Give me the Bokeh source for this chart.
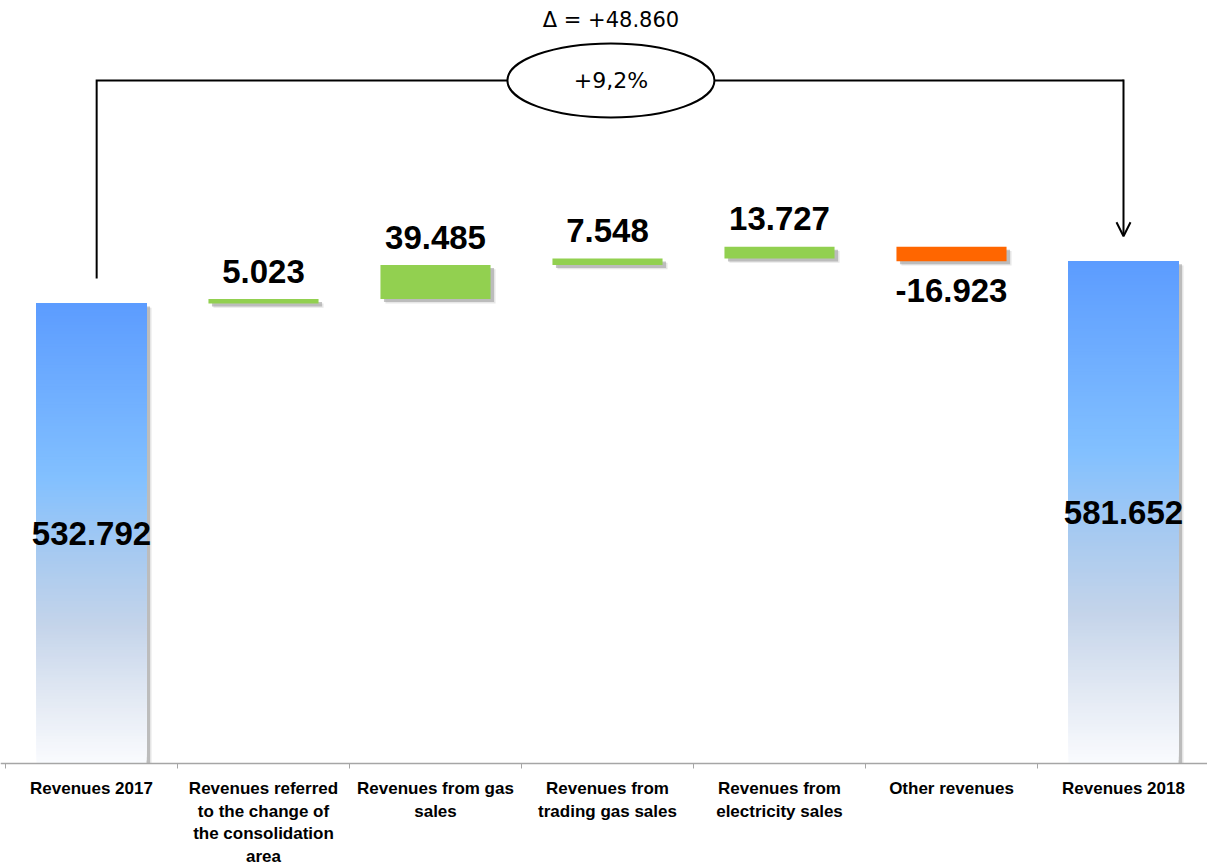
import numpy as np
from bokeh.plotting import figure
from bokeh.models import Range1d, Arrow, OpenHead
from bokeh.core.properties import value
from bokeh.embed import file_html
from bokeh.resources import INLINE

# ---------------- data ----------------
tick_labels = [
    "Revenues 2017",
    "Revenues referred\nto the change of\nthe consolidation\narea",
    "Revenues from gas\nsales",
    "Revenues from\ntrading gas sales",
    "Revenues from\nelectricity sales",
    "Other revenues",
    "Revenues 2018",
]
start_total = 532.792
deltas = [5.023, 39.485, 7.548, 13.727, -16.923]
end_total = 581.652

# ---------------- layout / style ----------------
W, H = 1207, 866
AXIS_Y_PX = 763          # screen y of the category axis
PX_PER_UNIT = 0.8635
CAT_PX = 172.0
LEFT_PX = 5.0            # screen x of first category boundary
BAR_W = 0.64
GREEN = "#92D050"
ORANGE = "#FF6600"
AXIS_GREY = "#a6a6a6"
FONT = value("Liberation Sans")

x_start = -LEFT_PX / CAT_PX - 0.5
x_end = x_start + W / CAT_PX
y_end = AXIS_Y_PX / PX_PER_UNIT
y_start = -(H - AXIS_Y_PX) / PX_PER_UNIT

p = figure(width=W, height=H, output_backend="svg", toolbar_location=None,
           x_range=Range1d(x_start, x_end), y_range=Range1d(y_start, y_end),
           x_axis_location=None, y_axis_location=None,
           min_border_left=0, min_border_right=0, min_border_top=0, min_border_bottom=0)
p.outline_line_color = None
p.xgrid.visible = False
p.ygrid.visible = False
p.background_fill_color = "white"
p.border_fill_color = "white"

n = len(tick_labels)
xs = np.arange(n)

# waterfall geometry from data
bottoms, tops = [], []
running = start_total
for d in deltas:
    new = running + d
    bottoms.append(min(running, new))
    tops.append(max(running, new))
    running = new
dx = list(xs[1:1 + len(deltas)])
colors = [GREEN if d >= 0 else ORANGE for d in deltas]

# shadows
sdx = 3.5 / CAT_PX
sdy = 3.0 / PX_PER_UNIT
bar_x = [xs[0]] + dx + [xs[-1]]
bar_top = [start_total] + tops + [end_total]
bar_bot = [0] + bottoms + [0]
shadow_left = [x - BAR_W / 2 + sdx for x in bar_x]
shadow_right = [x + BAR_W / 2 + sdx for x in bar_x]
shadow_top = [t - sdy for t in bar_top]
shadow_bot = [max(b - sdy, 0) for b in bar_bot]
p.quad(left=shadow_left, right=shadow_right, top=shadow_top, bottom=shadow_bot,
       fill_color="#808080", fill_alpha=0.45, line_color=None)
sdx2 = 1.5 / CAT_PX
p.quad(left=[l + sdx2 for l in shadow_left], right=[r + sdx2 for r in shadow_right],
       top=[t - 1.5 for t in shadow_top], bottom=[max(b - 1.5, 0) for b in shadow_bot],
       fill_color="#a0a0a0", fill_alpha=0.25, line_color=None)

# gradient total bars
stops_f = [0.0, 0.38, 0.55, 0.70, 0.85, 1.0]
stops_c = np.array([[92, 156, 255], [130, 192, 255], [168, 202, 240],
                    [196, 212, 234], [225, 232, 243], [250, 251, 254]], dtype=float)
N = 150


def grad_color(f):
    r = np.interp(f, stops_f, stops_c[:, 0])
    g = np.interp(f, stops_f, stops_c[:, 1])
    b = np.interp(f, stops_f, stops_c[:, 2])
    return "#%02x%02x%02x" % (int(round(r)), int(round(g)), int(round(b)))


for xi, total in [(xs[0], start_total), (xs[-1], end_total)]:
    bots = [total * i / N for i in range(N)]
    cols = [grad_color(1 - (i + 0.5) / N) for i in range(N)]
    p.quad(left=[xi - BAR_W / 2] * N, right=[xi + BAR_W / 2] * N,
           top=[total] * N, bottom=bots, fill_color=cols, line_color=None)

# delta bars
p.quad(left=[x - BAR_W / 2 for x in dx], right=[x + BAR_W / 2 for x in dx],
       top=tops, bottom=bottoms, fill_color=colors, line_color=None)


def fmt(v):
    return f"{v:.3f}"


# delta labels
lab_y = [t if d >= 0 else b for d, t, b in zip(deltas, tops, bottoms)]
lab_off = [-28 if d >= 0 else 29 for d in deltas]
p.text(x=dx, y=lab_y, text=[fmt(d) for d in deltas], y_offset=lab_off,
       text_font=FONT, text_font_style="bold", text_font_size="33px",
       text_align="center", text_baseline="alphabetic", text_color="black")

# total labels
p.text(x=[xs[0], xs[-1]], y=[start_total / 2, end_total / 2],
       text=[fmt(start_total), fmt(end_total)], y_offset=0,
       text_font=FONT, text_font_style="bold", text_font_size="33px",
       text_align="center", text_baseline="alphabetic", text_color="black")

# connector with delta
delta = end_total - start_total
pct = delta / start_total * 100
CONN_Y = 791
GAP = 29
LX = 0.03
RX = 6.0
p.line(x=[LX, LX, RX], y=[start_total + GAP, CONN_Y, CONN_Y],
       line_color="black", line_width=2, line_join="miter")
p.add_layout(Arrow(end=OpenHead(size=14, line_width=2, line_color="black"),
                   x_start=RX, y_start=CONN_Y + 1, x_end=RX, y_end=end_total + GAP,
                   line_color="black", line_width=2))
ex = 3.02
p.ellipse(x=[ex], y=[CONN_Y], width=[207 / CAT_PX], height=[74 / PX_PER_UNIT],
          fill_color="white", line_color="black", line_width=2)
p.text(x=[ex], y=[CONN_Y], text=["+" + f"{pct:.1f}".replace(".", ",") + "%"],
       y_offset=0, text_font=value("DejaVu Sans"), text_font_size="22px",
       text_align="center", text_baseline="alphabetic", text_color="black")
p.text(x=[ex], y=[853.5], text=["\u0394 = +" + fmt(delta)], y_offset=-7,
       text_font=value("DejaVu Sans"), text_font_size="21px",
       text_align="center", text_baseline="alphabetic", text_color="black")

# category axis: baseline, boundary ticks, labels
p.segment(x0=[x_start], x1=[x_end], y0=[0], y1=[0], line_color=AXIS_GREY, line_width=1.5)
bounds = [x - 0.5 for x in xs] + [xs[-1] + 0.5]
p.segment(x0=bounds, x1=bounds, y0=[0] * len(bounds), y1=[-5 / PX_PER_UNIT] * len(bounds),
          line_color=AXIS_GREY, line_width=1)
lx, ly, lt, lo = [], [], [], []
for i, lab in enumerate(tick_labels):
    for k, line in enumerate(lab.split("\n")):
        lx.append(xs[i])
        ly.append(0)
        lt.append(line)
        lo.append(25 + 22.5 * k)
p.text(x=lx, y=ly, text=lt, y_offset=lo, text_font=FONT, text_font_style="bold",
       text_font_size="17px", text_align="center", text_baseline="alphabetic",
       text_color="black")

open("out.html", "w").write(file_html(p, INLINE))
